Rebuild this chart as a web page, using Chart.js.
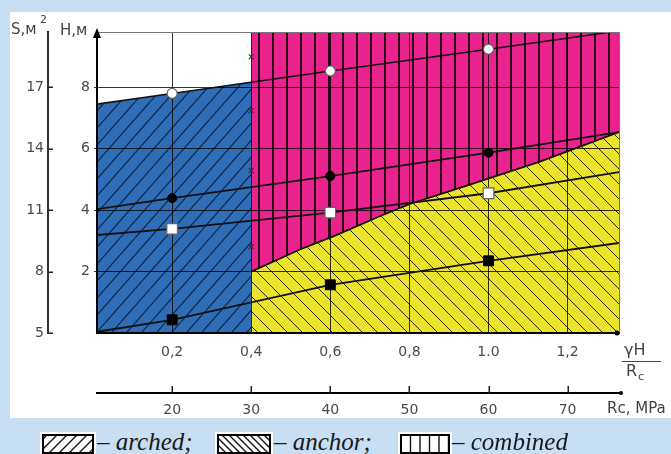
<!DOCTYPE html>
<html><head><meta charset="utf-8">
<script src="https://cdn.jsdelivr.net/npm/chart.js@4.4.0/dist/chart.umd.min.js"></script>
<style>
html,body{margin:0;padding:0;}
body{width:671px;height:454px;background:#c8def2;position:relative;overflow:hidden;font-family:'DejaVu Sans';}
#panel{position:absolute;left:10px;top:12px;width:661px;height:406px;background:#fff;}
#c{position:absolute;left:0;top:0;}
.sw{position:absolute;top:432px;}
.lt{position:absolute;top:429px;font:italic 25px 'Liberation Serif';line-height:25px;color:#1a1a1a;white-space:nowrap;}
</style></head>
<body>
<div id="panel"></div>
<canvas id="c" width="671" height="420"></canvas>
<canvas class="sw" id="sw1" width="56" height="24" style="left:40px"></canvas>
<span class="lt" style="left:97px">– arched;</span>
<canvas class="sw" id="sw2" width="58" height="24" style="left:215px"></canvas>
<span class="lt" style="left:274px">– anchor;</span>
<canvas class="sw" id="sw3" width="54" height="24" style="left:398px"></canvas>
<span class="lt" style="left:452px">– combined</span>
<script>
// ---- axis ticks ----
const xTicks = [0.2, 0.4, 0.6, 0.8, 1.0, 1.2];
const xTickLabels = ['0,2', '0,4', '0,6', '0,8', '1.0', '1,2'];
const rcTicks = [20, 30, 40, 50, 60, 70];
const hTicks = [2, 4, 6, 8];
const sTicks = [5, 8, 11, 14, 17];
const xRange = [0.01, 1.33];
const hRange = [0, 9.8];
// axis correspondences
const rcAt0 = 10, rcPerX = 50;   // Rc = 10 + 50·(γH/Rc)
const sAtH0 = 5, sPerH = 1.5;    // S = 5 + 1.5·H

// ---- series (x = γH/Rc, y = H, m) ----
const markerX = [0.2, 0.6, 1.0];
const lineX = [0.01, 0.2, 0.6, 1.0, 1.33];
const openCircleX = [0.01, 0.2, 0.6, 1.0, 1.31];
const openCircleH = [7.45, 7.80, 8.53, 9.24, 9.8];
const filledCircleH = [4.03, 4.39, 5.11, 5.87, 6.54];
const openSquareH = [3.19, 3.39, 3.92, 4.55, 5.24];
const filledSquareH = [0.04, 0.43, 1.57, 2.35, 2.93];

// ---- regions ----
const archedX = [0.01, 0.4];
const archedTopH = [7.45, 8.18];
const anchorX = [0.4, 0.523, 0.612, 0.725, 0.801, 0.945, 1.13, 1.33];
const anchorTopH = [2.0, 2.72, 3.17, 3.80, 4.20, 4.80, 5.58, 6.54];

// ---- small cross marks on the 0,4 line ----
const crossX = [0.4, 0.4, 0.4, 0.4];
const crossH = [8.99, 7.24, 5.29, 2.81];

function hatchTile(bg, fg, lw, kind, w, h) {
  const c = document.createElement('canvas'); c.width = w; c.height = h;
  const g = c.getContext('2d');
  if (bg) { g.fillStyle = bg; g.fillRect(0, 0, w, h); }
  g.strokeStyle = fg; g.lineWidth = lw; g.beginPath();
  if (kind === 'v') { g.moveTo(w / 2, 0); g.lineTo(w / 2, h); }
  else if (kind === '/') { for (const k of [-1, 0, 1]) { g.moveTo(k * w, h); g.lineTo(k * w + w, 0); } }
  else { for (const k of [-1, 0, 1]) { g.moveTo(k * w, 0); g.lineTo(k * w + w, h); } }
  g.stroke();
  return c;
}

const cv = document.getElementById('c');
const ctx = cv.getContext('2d');
const blueFill = ctx.createPattern(hatchTile('#2f6db6', '#0c1f3e', 1.1, '/', 15, 17), 'repeat');
const magFill = ctx.createPattern(hatchTile('#ea228d', '#2b0716', 2, 'v', 14, 14), 'repeat');
const yelFill = ctx.createPattern(hatchTile('#ebe32c', '#262600', 1, '\\', 15, 15), 'repeat');

const toPts = (xs, ys) => xs.map((x, i) => ({ x: x, y: ys[i] }));
const mr = (xs, r) => xs.map(x => markerX.includes(x) ? r : 0);

const annot = {
  id: 'annot',
  afterDraw(chart) {
    const g = chart.ctx, a = chart.chartArea, sS = chart.scales.yS, sx2 = chart.scales.x2;
    g.save();
    // frame top & right
    g.strokeStyle = '#777'; g.lineWidth = 1;
    g.beginPath();
    g.moveTo(a.left, a.top + 0.5); g.lineTo(a.right + 0.5, a.top + 0.5); g.lineTo(a.right + 0.5, a.bottom);
    g.stroke();
    // tick marks of the S axis (pointing right) and the Rc axis (pointing up)
    g.strokeStyle = '#222'; g.lineWidth = 1.5;
    g.beginPath();
    sS.ticks.forEach(t => { const y = Math.round(sS.getPixelForValue(t.value)) + 0.25; g.moveTo(sS.right, y); g.lineTo(sS.right + 5, y); });
    sx2.ticks.forEach(t => { const x = Math.round(sx2.getPixelForValue(t.value)) + 0.25; g.moveTo(x, sx2.top); g.lineTo(x, sx2.top - 7); });
    g.stroke();
    // arrow on H axis
    g.fillStyle = '#000';
    g.beginPath(); g.moveTo(a.left, a.top - 4); g.lineTo(a.left - 4, a.top + 6); g.lineTo(a.left + 4, a.top + 6); g.closePath(); g.fill();
    // dots at axis ends
    g.beginPath(); g.arc(a.right - 2, a.bottom, 2.5, 0, Math.PI * 2); g.fill();
    g.beginPath(); g.arc(sx2.right + 2, sx2.top, 2, 0, Math.PI * 2); g.fill();
    // titles
    g.fillStyle = '#444'; g.textBaseline = 'middle'; g.textAlign = 'left';
    g.font = '15px "DejaVu Sans"';
    g.fillText('S,м', sS.left + 11, a.top - 2);
    g.font = '11px "DejaVu Sans"';
    g.fillText('2', sS.left + 40, a.top - 12);
    g.font = '15px "DejaVu Sans"';
    g.fillText('H,м', sS.right + 12, a.top - 1);
    // γH / Rc
    const fx = a.right + 3;
    g.font = '16px "DejaVu Sans"';
    g.fillText('γH', fx + 2, a.bottom + 18);
    g.strokeStyle = '#444'; g.lineWidth = 1.2;
    g.beginPath(); g.moveTo(fx, a.bottom + 28.5); g.lineTo(fx + 39, a.bottom + 28.5); g.stroke();
    g.fillText('R', fx + 4, a.bottom + 39);
    g.font = '11px "DejaVu Sans"';
    g.fillText('c', fx + 16, a.bottom + 44);
    // Rc, MPa
    g.font = '15px "DejaVu Sans"';
    g.fillText('Rc, MPa', a.right - 12, sx2.top + 16);
    g.restore();
  }
};

const tickFont = { family: 'DejaVu Sans', size: 14 };
const tickColor = '#4a4a4a';
const gridColor = 'rgba(0,0,0,0.8)';

new Chart(ctx, {
  type: 'line',
  data: {
    datasets: [
      { label: 'arched', data: toPts(archedX, archedTopH), fill: 'origin', backgroundColor: blueFill,
        borderColor: 'rgba(0,0,0,0)', borderWidth: 0, pointRadius: 0, order: 10 },
      { label: 'combined', data: toPts(anchorX, anchorTopH), fill: 'end', backgroundColor: magFill,
        borderColor: 'rgba(0,0,0,0)', borderWidth: 0, pointRadius: 0, order: 9 },
      { label: 'anchor', data: toPts(anchorX, anchorTopH), fill: 'origin', backgroundColor: yelFill,
        borderColor: '#111', borderWidth: 1.8, pointRadius: 0, order: 8 },
      { label: 'open circles', data: toPts(openCircleX, openCircleH), fill: false, borderColor: '#111', borderWidth: 1.6,
        pointStyle: 'circle', pointRadius: mr(openCircleX, 5), pointBackgroundColor: '#fff', pointBorderColor: '#666', pointBorderWidth: 1.2, order: 1 },
      { label: 'filled circles', data: toPts(lineX, filledCircleH), fill: false, borderColor: '#111', borderWidth: 1.8,
        pointStyle: 'circle', pointRadius: mr(lineX, 4.5), pointBackgroundColor: '#000', pointBorderColor: '#000', pointBorderWidth: 1, order: 1 },
      { label: 'open squares', data: toPts(lineX, openSquareH), fill: false, borderColor: '#111', borderWidth: 1.8,
        pointStyle: 'rect', pointRadius: mr(lineX, 7.5), pointBackgroundColor: '#fff', pointBorderColor: '#666', pointBorderWidth: 1.2, order: 1 },
      { label: 'filled squares', data: toPts(lineX, filledSquareH), fill: false, borderColor: '#111', borderWidth: 1.8,
        pointStyle: 'rect', pointRadius: mr(lineX, 7), pointBackgroundColor: '#000', pointBorderColor: '#000', pointBorderWidth: 1, order: 1 },
      { label: 'marks', data: toPts(crossX, crossH), showLine: false, fill: false,
        pointStyle: 'crossRot', pointRadius: 3.5, pointBorderColor: '#333', pointBorderWidth: 1.2, order: 0 }
    ]
  },
  options: {
    responsive: false,
    animation: false,
    layout: { padding: { top: 32, right: 52, left: 0, bottom: 0 } },
    plugins: { legend: { display: false }, tooltip: { enabled: false }, filler: { drawTime: 'beforeDraw' } },
    scales: {
      x: {
        type: 'linear', position: 'bottom', weight: 0, min: xRange[0], max: xRange[1],
        afterBuildTicks: s => { s.ticks = xTicks.map(v => ({ value: v })); },
        afterFit: s => { s.height = 60; },
        grid: { color: gridColor, lineWidth: 1, drawTicks: false },
        border: { display: true, color: '#000', width: 2 },
        ticks: { padding: 11, color: tickColor, font: tickFont, maxRotation: 0, autoSkip: false,
          callback: v => xTickLabels[xTicks.indexOf(v)] }
      },
      x2: {
        type: 'linear', position: 'bottom', weight: 1,
        min: rcAt0 + rcPerX * xRange[0], max: rcAt0 + rcPerX * xRange[1],
        afterBuildTicks: s => { s.ticks = rcTicks.map(v => ({ value: v })); },
        afterFit: s => { s.height = 27; },
        grid: { drawOnChartArea: false, drawTicks: false },
        border: { display: true, color: '#000', width: 2 },
        ticks: { padding: 9, color: tickColor, font: tickFont, maxRotation: 0, autoSkip: false,
          callback: v => String(v) }
      },
      y: {
        type: 'linear', position: 'left', weight: 0, min: hRange[0], max: hRange[1],
        afterBuildTicks: s => { s.ticks = hTicks.map(v => ({ value: v })); },
        afterFit: s => { s.width = 49; },
        grid: { color: gridColor, lineWidth: 1, drawTicks: true, tickLength: 3, tickColor: '#333' },
        border: { display: true, color: '#000', width: 2 },
        ticks: { padding: 4, color: tickColor, font: tickFont, callback: v => String(v) }
      },
      yS: {
        type: 'linear', position: 'left', weight: 1,
        min: sAtH0 + sPerH * hRange[0], max: sAtH0 + sPerH * hRange[1],
        afterBuildTicks: s => { s.ticks = sTicks.map(v => ({ value: v })); },
        afterFit: s => { s.width = 48; },
        grid: { drawOnChartArea: false, drawTicks: false },
        border: { display: true, color: '#333', width: 2 },
        ticks: { padding: 4, color: tickColor, font: tickFont, callback: v => String(v) }
      }
    }
  },
  plugins: [annot]
});

// legend swatches
function swatch(id, kind, step) {
  const c = document.getElementById(id), g = c.getContext('2d');
  const w = c.width, h = c.height;
  g.fillStyle = '#fff'; g.fillRect(0, 0, w, h);
  g.save();
  g.beginPath(); g.rect(3, 3, w - 6, h - 6); g.clip();
  g.strokeStyle = '#111'; g.lineWidth = 1.4; g.beginPath();
  if (kind === 'v') { for (let x = 3 + step; x < w - 3; x += step) { g.moveTo(x, 0); g.lineTo(x, h); } }
  else if (kind === '/') { for (let x = -h; x < w + h; x += step) { g.moveTo(x, h); g.lineTo(x + h, 0); } }
  else { for (let x = -h; x < w + h; x += step) { g.moveTo(x, 0); g.lineTo(x + h, h); } }
  g.stroke(); g.restore();
  g.strokeStyle = '#000'; g.lineWidth = 2; g.strokeRect(3, 3, w - 6, h - 6);
}
swatch('sw1', '/', 10);
swatch('sw2', '\\', 7);
swatch('sw3', 'v', 9.5);
</script>
</body></html>
